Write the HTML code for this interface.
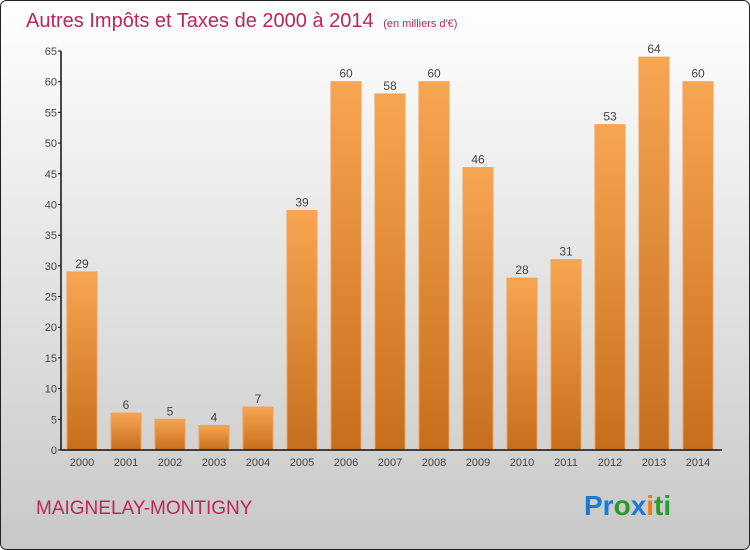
<!DOCTYPE html>
<html><head><meta charset="utf-8"><style>
html,body{margin:0;padding:0;width:750px;height:550px;overflow:hidden}
svg{display:block;font-family:"Liberation Sans",sans-serif}
</style></head><body>
<svg id="c" width="750" height="550">
<defs>
<linearGradient id="bg" x1="0" y1="0" x2="0" y2="1"><stop offset="0" stop-color="#ffffff"/><stop offset="1" stop-color="#c8c8c8"/></linearGradient>
<linearGradient id="bar" x1="0" y1="0" x2="0" y2="1"><stop offset="0" stop-color="#f7a652"/><stop offset="1" stop-color="#c76e1c"/></linearGradient>
</defs>
<rect x="0.5" y="0.5" width="749" height="549" rx="6" fill="url(#bg)" stroke="#222"/>
<text x="26" y="27" font-size="20" fill="#c0245a">Autres Impôts et Taxes de 2000 à 2014 <tspan font-size="11" dx="4">(en milliers d'€)</tspan></text>
<g id="bars"></g>
<g id="axes"></g>
<text x="36" y="514" font-size="19" fill="#c0245a">MAIGNELAY-MONTIGNY</text>
<text x="584" y="515" font-size="28" font-weight="bold"><tspan fill="#1a7ad4">Pr</tspan><tspan fill="#2a9a2a">o</tspan><tspan fill="#1a7ad4">x</tspan><tspan fill="#f07a10">i</tspan><tspan fill="#2a9a2a">ti</tspan></text>
</svg>
<script>
const categories=["2000","2001","2002","2003","2004","2005","2006","2007","2008","2009","2010","2011","2012","2013","2014"];
const values=[29,6,5,4,7,39,60,58,60,46,28,31,53,64,60];
const yTicks=[0,5,10,15,20,25,30,35,40,45,50,55,60,65];
const NS="http://www.w3.org/2000/svg";
const x0=62,step=44,bw=30,yBase=450,yTop=51,yMax=65;
const y=v=>yBase-(v/yMax)*(yBase-yTop);
const xb=i=>x0+5+i*step;
function mk(t,a,p){const e=document.createElementNS(NS,t);for(const k in a)e.setAttribute(k,a[k]);p.appendChild(e);return e;}
const gb=document.getElementById('bars'),ga=document.getElementById('axes');
values.forEach((v,i)=>{
  const r=mk('rect',{x:xb(i),y:y(v),width:bw,height:yBase-y(v),fill:'url(#bar)',stroke:'#f5a050','stroke-width':1},gb);
  
  
  const t=mk('text',{x:xb(i)+bw/2,y:y(v)-4,'text-anchor':'middle','font-size':12,fill:'#444'},gb);
  t.textContent=v;
  
  
  const c=mk('text',{x:xb(i)+bw/2,y:466,'text-anchor':'middle','font-size':11,fill:'#444'},ga);
  c.textContent=categories[i];
  
  
});
const ya=mk('line',{x1:61,y1:yTop,x2:61,y2:yBase,stroke:'#111','stroke-width':1.5},ga);


const xa=mk('line',{x1:61,y1:yBase,x2:722,y2:yBase,stroke:'#111','stroke-width':1.5},ga);


yTicks.forEach(v=>{
  mk('line',{x1:58,y1:y(v),x2:61,y2:y(v),stroke:'#111'},ga);
  const t=mk('text',{x:57,y:y(v)+4,'text-anchor':'end','font-size':11,fill:'#444'},ga);
  t.textContent=v;
  
  
});
</script>
</body></html>
